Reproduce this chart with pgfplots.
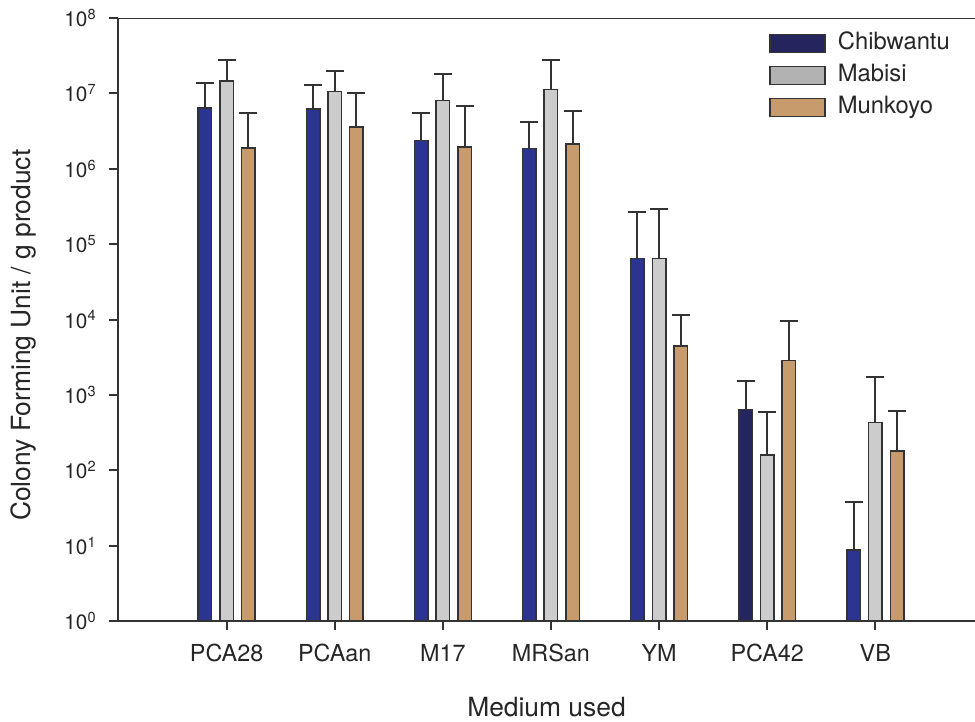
\documentclass[border=0pt]{standalone}
\usepackage{fontspec}
\setmainfont{TeX Gyre Heros}
\usepackage{pgfplots}
\pgfplotsset{compat=1.18}

\definecolor{chib}{HTML}{2B3491}
\definecolor{chibdark}{HTML}{24245E}
\definecolor{mab}{HTML}{CCCCCC}
\definecolor{munk}{HTML}{C89B6C}
\definecolor{edge}{HTML}{333333}

\begin{document}
\begin{tikzpicture}
\useasboundingbox (-59pt,-50.5pt) rectangle (428.5pt,310.5pt);
\begin{axis}[
    at={(0,0)}, anchor=south west,
    scale only axis,
    width=428.5pt, height=301.5pt,
    ymode=log, log basis y=10,
    ymin=1, ymax=1e8,
    xmin=-1.005, xmax=6.922,
    axis x line*=bottom, axis y line*=left,
    axis line style={edge, line width=1pt, -},
    ytick={1,10,100,1000,10000,100000,1000000,10000000,100000000},
    yticklabels={10\textsuperscript{0},10\textsuperscript{1},10\textsuperscript{2},10\textsuperscript{3},10\textsuperscript{4},10\textsuperscript{5},10\textsuperscript{6},10\textsuperscript{7},10\textsuperscript{8}},
    yminorticks=false,
    xtick={0,1,2,3,4,5,6},
    xticklabels={PCA28,PCAan,M17,MRSan,YM,PCA42,VB},
    tick align=outside,
    major tick length=4.5pt,
    tick style={edge, line width=1pt},
    ticklabel style={text=black!85},
    xticklabel style={inner sep=0pt, yshift=-7pt, font=\fontsize{11.7}{14}\selectfont},
    yticklabel style={inner sep=0pt, xshift=-6pt, font=\fontsize{10.4}{12}\selectfont},
    xlabel={Medium used},
    ylabel={Colony Forming Unit / g product},
    label style={font=\fontsize{13.2}{15}\selectfont, text=black!85},
    xlabel style={at={(rel axis cs:0.5,0)}, anchor=north, inner sep=0pt, yshift=-38pt},
    ylabel style={at={(rel axis cs:-0.126,0.474)}, anchor=north, inner sep=0pt},
    ybar, bar width=6.75pt,
    error bars/y dir=plus, error bars/y explicit,
    error bars/error bar style={edge, line width=1pt},
    error bars/error mark options={edge, line width=1pt, mark size=4.5pt, rotate=90},
    legend image code/.code={\draw[#1, line width=0.75pt] (0pt,-4.5pt) rectangle (27.5pt,4.5pt);},
    legend style={draw=none, fill=none, at={(rel axis cs:0.7596,0.983)}, anchor=north west,
        inner sep=0pt, row sep=1pt, column sep=4pt, font=\fontsize{11.9}{13}\selectfont,
        nodes={text height=8.5pt, text depth=2.5pt, inner sep=2pt, text=black!85}},
    legend cell align=left,
]
\addplot[forget plot, fill=chib, draw=edge, line width=0.75pt, bar shift=-10.85pt]
    coordinates {(0,6.4e6) +- (0,7.5e6) (1,6.2e6) +- (0,6.9e6) (2,2.37e6) +- (0,3.13e6)
                 (3,1.86e6) +- (0,2.25e6) (4,64600) +- (0,200400) (6,8.7) +- (0,29.5)};
\addplot[forget plot, fill=chibdark, draw=edge, line width=0.75pt, bar shift=-10.85pt]
    coordinates {(5,643) +- (0,867)};
\addplot[forget plot, fill=mab, draw=edge, line width=0.75pt, bar shift=0pt]
    coordinates {(0,1.47e7) +- (0,1.33e7) (1,1.06e7) +- (0,9.1e6) (2,8.1e6) +- (0,9.9e6)
                 (3,1.13e7) +- (0,1.63e7) (4,64600) +- (0,232400) (5,159) +- (0,427) (6,432) +- (0,1290)};
\addplot[forget plot, fill=munk, draw=edge, line width=0.75pt, bar shift=10.85pt]
    coordinates {(0,1.88e6) +- (0,3.62e6) (1,3.6e6) +- (0,6.4e6) (2,1.95e6) +- (0,4.75e6)
                 (3,2.12e6) +- (0,3.68e6) (4,4480) +- (0,6920) (5,2865) +- (0,6745) (6,180) +- (0,435)};
\addlegendimage{fill=chibdark, draw=black!80}
\addlegendentry{Chibwantu}
\addlegendimage{fill=black!30, draw=edge}
\addlegendentry{Mabisi}
\addlegendimage{fill=munk, draw=edge}
\addlegendentry{Munkoyo}
\draw[edge, line width=1pt] (rel axis cs:0,1) -- (rel axis cs:1,1);
\end{axis}
\end{tikzpicture}
\end{document}
